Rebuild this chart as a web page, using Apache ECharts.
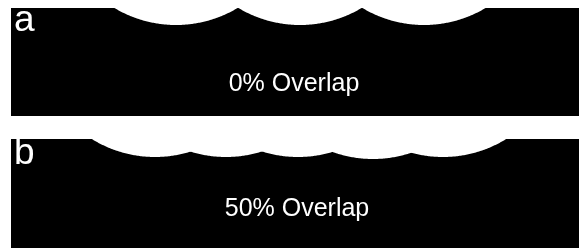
<!DOCTYPE html>
<html>
<head>
<meta charset="utf-8">
<script src="https://cdn.jsdelivr.net/npm/echarts@6/dist/echarts.min.js"></script>
<style>
    html, body { margin: 0; padding: 0; background: #fff; }
    #chartBox { width: 579px; height: 250px; }
</style>
</head>
<body>
<div id="chartBox"></div>
<script>
// panel labels and captions
const panelLabels = ['a', 'b'];
const captions = ['0% Overlap', '50% Overlap'];

// cap centres along each panel (axis units, 1 unit ~ 1px)
const capCentersA = [165, 289, 413];
const capCentersB = [144, 215, 287, 362, 432];
// how far every cap dips below the panel top, and the radius of its circle
const capDepthA = [17, 17, 17];
const capDepthB = [18, 18, 18, 20, 18];
const capRadius = 120;

const chartDom = document.getElementById('chartBox');
const myChart = echarts.init(chartDom, null, { renderer: 'canvas' });

// build [cx, cy, r] items; cy < 0 means the centre sits above the panel top
function capItems(centers, depths) {
    return centers.map((cx, i) => [cx, depths[i] - capRadius, capRadius]);
}

// white cap = the part of the circle that falls inside the panel (y >= 0)
function renderCap(params, api) {
    const cx = api.value(0);
    const cy = api.value(1);
    const r = api.value(2);
    const t0 = Math.asin(Math.min(1, -cy / r));
    const n = 120;
    const points = [];
    for (let i = 0; i <= n; i++) {
        const t = t0 + (Math.PI - 2 * t0) * i / n;
        points.push(api.coord([cx + r * Math.cos(t), cy + r * Math.sin(t)]));
    }
    return {
        type: 'polygon',
        shape: { points: points },
        style: { fill: '#ffffff' }
    };
}

const font = 'Liberation Sans';

let option = {
    animation: false,
    backgroundColor: '#ffffff',
    grid: [
        { left: 11, top: 8, width: 568, height: 108, show: true, backgroundColor: '#000', borderWidth: 0 },
        { left: 11, top: 139, width: 568, height: 109, show: true, backgroundColor: '#000', borderWidth: 0 }
    ],
    xAxis: [
        { gridIndex: 0, type: 'value', min: 0, max: 568, show: false },
        { gridIndex: 1, type: 'value', min: 0, max: 568, show: false }
    ],
    yAxis: [
        { gridIndex: 0, type: 'value', min: 0, max: 108, inverse: true, show: false },
        { gridIndex: 1, type: 'value', min: 0, max: 109, inverse: true, show: false }
    ],
    graphic: [
        { type: 'text', left: 14, top: 2, style: { text: panelLabels[0], fill: '#fff', fontSize: 37, fontFamily: font } },
        { type: 'text', left: 14, top: 135, style: { text: panelLabels[1], fill: '#fff', fontSize: 37, fontFamily: font } },
        { type: 'text', x: 294, y: 84, style: { text: captions[0], fill: '#fff', fontSize: 25, fontFamily: font, align: 'center', verticalAlign: 'middle' } },
        { type: 'text', x: 297, y: 209, style: { text: captions[1], fill: '#fff', fontSize: 25, fontFamily: font, align: 'center', verticalAlign: 'middle' } }
    ],
    series: [
        {
            type: 'custom',
            xAxisIndex: 0,
            yAxisIndex: 0,
            renderItem: renderCap,
            data: capItems(capCentersA, capDepthA)
        },
        {
            type: 'custom',
            xAxisIndex: 1,
            yAxisIndex: 1,
            renderItem: renderCap,
            data: capItems(capCentersB, capDepthB)
        }
    ]
};
myChart.setOption(option);
</script>
</body>
</html>
